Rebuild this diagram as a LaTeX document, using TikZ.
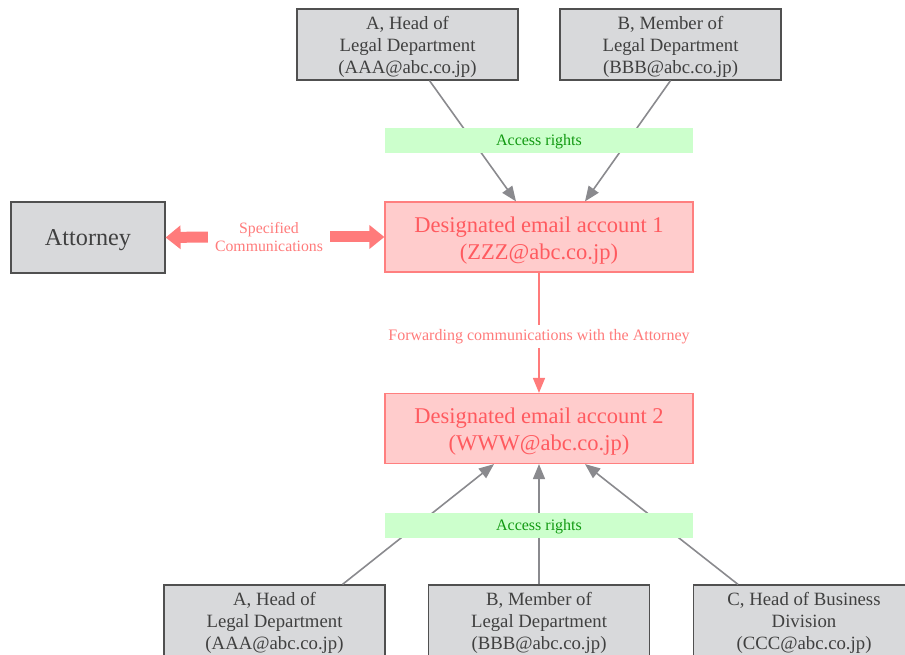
\documentclass[tikz,border=0pt]{standalone}
\usepackage{fontspec}
\setmainfont{Liberation Serif}
\usepackage{xcolor}
\usetikzlibrary{arrows.meta,positioning}

\definecolor{boxgray}{HTML}{D8D9DB}
\definecolor{edgegray}{HTML}{505050}
\definecolor{txtgray}{HTML}{404040}
\definecolor{arrowgray}{HTML}{8A8A8E}
\definecolor{acctfill}{HTML}{FFCCCC}
\definecolor{acctline}{HTML}{FF7F7F}
\definecolor{accttext}{HTML}{FF5A5F}
\definecolor{arrowred}{HTML}{FF7B7B}
\definecolor{rightsfill}{HTML}{CCFFCC}
\definecolor{rightstext}{HTML}{119911}

% stacked lines, set a little lower in the box
\newcommand{\boxtext}[2][2.5pt]{\raisebox{-#1}[\height][\depth]{\begin{tabular}{@{}c@{}}#2\end{tabular}}}

\begin{document}
\begin{tikzpicture}[x=1pt, y=-1pt,
  person/.style={draw=edgegray, line width=1.2pt, fill=boxgray, text=txtgray,
    minimum width=221pt, minimum height=71pt, inner sep=0pt,
    font=\fontsize{18.75}{22}\selectfont},
  account/.style={draw=acctline, line width=1.2pt, fill=acctfill, text=accttext,
    minimum width=308pt, minimum height=70pt, inner sep=0pt,
    font=\fontsize{22.5}{27}\selectfont},
  rights/.style={fill=rightsfill, text=rightstext, minimum width=308pt,
    minimum height=25pt, inner sep=0pt, font=\fontsize{16}{18}\selectfont},
  access/.style={draw=arrowgray, line width=1.6pt, -{Triangle[length=15pt,width=12pt]}},
  fwd/.style={draw=arrowred, line width=1.6pt, -{Triangle[length=15pt,width=12pt]}},
  spec/.style={draw=arrowred, line width=11pt, -{Triangle[length=15pt,width=23pt]}}]

\useasboundingbox (0,0) rectangle (905,655);

% --- Accounts ---
\node[account] (acct1) at (539,237) {\boxtext[3.5pt]{Designated email account 1\\(ZZZ@abc.co.jp)}};
\node[account] (acct2) at (539,428.5) {\boxtext[3.5pt]{Designated email account 2\\(WWW@abc.co.jp)}};

% --- Top: access to account 1 ---
\node[person] (headA) at (407.5,44.5) {\boxtext{A, Head of\\Legal Department\\(AAA@abc.co.jp)}};
\node[person] (membB) at (670.5,44.5) {\boxtext{B, Member of\\Legal Department\\(BBB@abc.co.jp)}};
\draw[access] ([xshift=22pt]headA.south) -- ([xshift=-23pt]acct1.north);
\draw[access] (membB.south) -- ([xshift=46pt]acct1.north);
\node[rights] (rights1) at (539,140.5) {\boxtext[1.5pt]{Access rights}};

% --- Attorney ---
\node[person, minimum width=154pt, font=\fontsize{24.2}{27}\selectfont] (atty) at (88,237.5) {\boxtext[3pt]{Attorney}};
\node[text=arrowred, align=center, inner sep=7pt, font=\fontsize{15.8}{18.5}\selectfont]
  (specd) at (269,237) {Specified\\Communications};
\draw[spec] (specd.west) -- (atty.east);
\draw[spec] (specd.east) -- (acct1.west);

% --- Forwarding ---
\draw[fwd] (acct1) -- node[pos=0.53, fill=white, text=arrowred, inner sep=4pt,
  font=\fontsize{16}{18}\selectfont] (fwdlbl) {Forwarding communications with the Attorney} (acct2);

% --- Bottom: access to account 2 ---
\node[person] (legalA) at (274.5,620.5) {\boxtext{A, Head of\\Legal Department\\(AAA@abc.co.jp)}};
\node[person] (legalB) at (539,620.5) {\boxtext{B, Member of\\Legal Department\\(BBB@abc.co.jp)}};
\node[person] (bizC) at (804,620.5) {\boxtext{C, Head of Business\\Division\\(CCC@abc.co.jp)}};
\draw[access] ([xshift=68pt]legalA.north) -- ([xshift=-45pt]acct2.south);
\draw[access] (legalB.north) -- (acct2.south);
\draw[access] ([xshift=-66pt]bizC.north) -- ([xshift=46pt]acct2.south);
\node[rights] (rights2) at (539,525) {\boxtext[1.5pt]{Access rights}};

\end{tikzpicture}
\end{document}
